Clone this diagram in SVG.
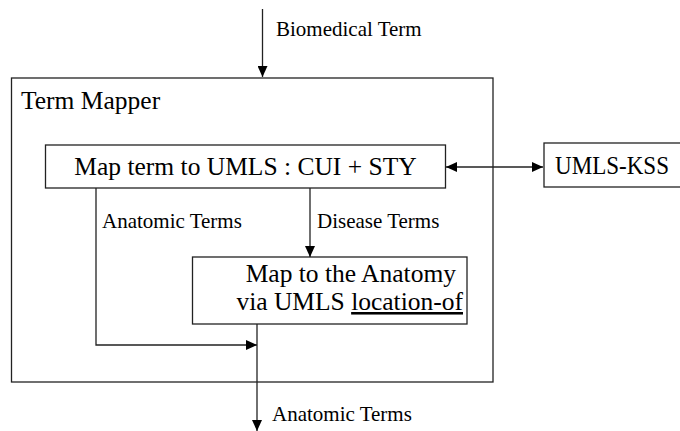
<svg xmlns="http://www.w3.org/2000/svg" width="680" height="431" viewBox="0 0 680 431">
<style>
.box{fill:#fff;stroke:#222;stroke-width:1.3}
.ln{fill:none;stroke:#222;stroke-width:1.3}
.big{font-family:"Liberation Serif","Times New Roman",serif;font-size:25.5px;fill:#000}
.lbl{font-family:"Liberation Serif","Times New Roman",serif;font-size:21px;fill:#000}
</style>
<defs>
<marker id="ah" markerUnits="userSpaceOnUse" markerWidth="11" markerHeight="10" refX="11" refY="5" orient="auto">
<path d="M0,0 L11,5 L0,10 z" fill="#000"/>
</marker>
<marker id="ahs" markerUnits="userSpaceOnUse" markerWidth="11" markerHeight="10" refX="11" refY="5" orient="auto-start-reverse">
<path d="M0,0 L11,5 L0,10 z" fill="#000"/>
</marker>
</defs>
<g id="term-mapper">
<rect class="box" x="11.5" y="78" width="481.5" height="304"/>
<text class="big" x="21" y="109">Term Mapper</text>
</g>
<g id="map-term">
<rect class="box" x="45.5" y="145" width="400" height="43"/>
<text class="big" x="245.5" y="175" text-anchor="middle">Map term to UMLS : CUI + STY</text>
</g>
<g id="umls-kss">
<rect class="box" x="544" y="143" width="150" height="44"/>
<text class="big" x="555" y="174" textLength="114" lengthAdjust="spacingAndGlyphs">UMLS-KSS</text>
</g>
<g id="map-anatomy">
<rect class="box" x="192.5" y="257" width="274.5" height="67"/>
<text class="big" x="456" y="282" text-anchor="end">Map to the Anatomy</text>
<text class="big" x="463" y="310" text-anchor="end">via UMLS <tspan text-decoration="underline">location-of</tspan></text>
</g>
<g id="connectors">
<line class="ln" x1="262.5" y1="9" x2="262.5" y2="77" marker-end="url(#ah)"/>
<text class="lbl" x="276" y="36">Biomedical Term</text>
<line class="ln" x1="446" y1="167" x2="543" y2="167" marker-start="url(#ahs)" marker-end="url(#ah)"/>
<polyline class="ln" points="96,188 96,345 257,345" marker-end="url(#ah)"/>
<text class="lbl" x="102" y="228">Anatomic Terms</text>
<line class="ln" x1="310" y1="188" x2="310" y2="257" marker-end="url(#ah)"/>
<text class="lbl" x="317" y="228">Disease Terms</text>
<line class="ln" x1="257" y1="324" x2="257" y2="431" marker-end="url(#ah)"/>
<text class="lbl" x="272" y="421">Anatomic Terms</text>
</g>
</svg>
